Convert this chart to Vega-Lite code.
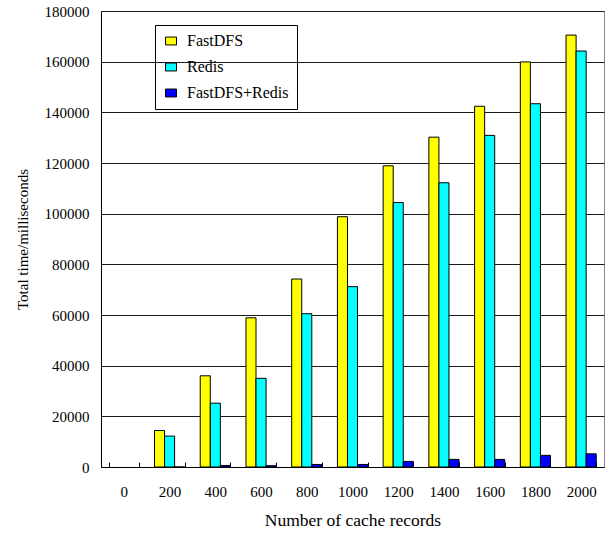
{
  "$schema": "https://vega.github.io/schema/vega-lite/v6.json",
  "width": 503,
  "height": 456,
  "autosize": {"type": "none"},
  "padding": {"left": 101, "top": 11, "right": 9, "bottom": 67},
  "background": "white",
  "config": {
    "view": {"stroke": "#888888"},
    "font": "Liberation Serif",
    "axis": {
      "labelFont": "Liberation Serif",
      "titleFont": "Liberation Serif",
      "labelFontSize": 15,
      "titleFontSize": 15,
      "titleFontWeight": "normal",
      "labelColor": "black",
      "titleColor": "black",
      "domainColor": "black",
      "tickColor": "black",
      "gridColor": "#1a1a1a"
    }
  },
  "data": {
    "values": [
      {"records": "200", "series": "FastDFS", "time": 14400},
      {"records": "200", "series": "Redis", "time": 12200},
      {"records": "200", "series": "FastDFS+Redis", "time": 0},
      {"records": "400", "series": "FastDFS", "time": 36000},
      {"records": "400", "series": "Redis", "time": 25200},
      {"records": "400", "series": "FastDFS+Redis", "time": 600},
      {"records": "600", "series": "FastDFS", "time": 58900},
      {"records": "600", "series": "Redis", "time": 35000},
      {"records": "600", "series": "FastDFS+Redis", "time": 500},
      {"records": "800", "series": "FastDFS", "time": 74200},
      {"records": "800", "series": "Redis", "time": 60500},
      {"records": "800", "series": "FastDFS+Redis", "time": 1000},
      {"records": "1000", "series": "FastDFS", "time": 98800},
      {"records": "1000", "series": "Redis", "time": 71200},
      {"records": "1000", "series": "FastDFS+Redis", "time": 1000},
      {"records": "1200", "series": "FastDFS", "time": 118900},
      {"records": "1200", "series": "Redis", "time": 104400},
      {"records": "1200", "series": "FastDFS+Redis", "time": 2200},
      {"records": "1400", "series": "FastDFS", "time": 130200},
      {"records": "1400", "series": "Redis", "time": 112200},
      {"records": "1400", "series": "FastDFS+Redis", "time": 3000},
      {"records": "1600", "series": "FastDFS", "time": 142400},
      {"records": "1600", "series": "Redis", "time": 130900},
      {"records": "1600", "series": "FastDFS+Redis", "time": 3000},
      {"records": "1800", "series": "FastDFS", "time": 159900},
      {"records": "1800", "series": "Redis", "time": 143400},
      {"records": "1800", "series": "FastDFS+Redis", "time": 4600},
      {"records": "2000", "series": "FastDFS", "time": 170500},
      {"records": "2000", "series": "Redis", "time": 164200},
      {"records": "2000", "series": "FastDFS+Redis", "time": 5200}
    ]
  },
  "mark": {"type": "bar", "stroke": "black", "strokeWidth": 1},
  "encoding": {
    "x": {
      "field": "records",
      "type": "nominal",
      "scale": {
        "domain": ["0", "200", "400", "600", "800", "1000", "1200", "1400", "1600", "1800", "2000"],
        "paddingInner": 0.34,
        "paddingOuter": 0.17
      },
      "axis": {
        "title": "Number of cache records",
        "titleFontSize": 17.5,
        "labelAngle": 0,
        "tickBand": "extent",
        "tickSize": -5,
        "labelPadding": 22,
        "titlePadding": 12,
        "grid": false
      }
    },
    "xOffset": {
      "field": "series",
      "type": "nominal",
      "scale": {"domain": ["FastDFS", "Redis", "FastDFS+Redis"], "paddingInner": 0, "paddingOuter": 0}
    },
    "y": {
      "field": "time",
      "type": "quantitative",
      "scale": {"domain": [0, 180000], "nice": false},
      "axis": {
        "title": "Total time/milliseconds",
        "values": [0, 20000, 40000, 60000, 80000, 100000, 120000, 140000, 160000, 180000],
        "format": "d",
        "ticks": false,
        "labelPadding": 12,
        "titlePadding": 14,
        "grid": true
      }
    },
    "color": {
      "field": "series",
      "type": "nominal",
      "scale": {"domain": ["FastDFS", "Redis", "FastDFS+Redis"], "range": ["#FFFF00", "#00FFFF", "#0000FF"]},
      "legend": {
        "title": null,
        "orient": "none",
        "legendX": 54,
        "legendY": 14,
        "strokeColor": "black",
        "padding": 8,
        "rowPadding": 10,
        "labelFont": "Liberation Serif",
        "labelFontSize": 16,
        "labelColor": "black",
        "labelOffset": 8,
        "symbolType": "M-1,-0.72H1V0.72H-1Z",
        "symbolSize": 121,
        "symbolStrokeColor": "black",
        "symbolStrokeWidth": 1
      }
    }
  }
}
